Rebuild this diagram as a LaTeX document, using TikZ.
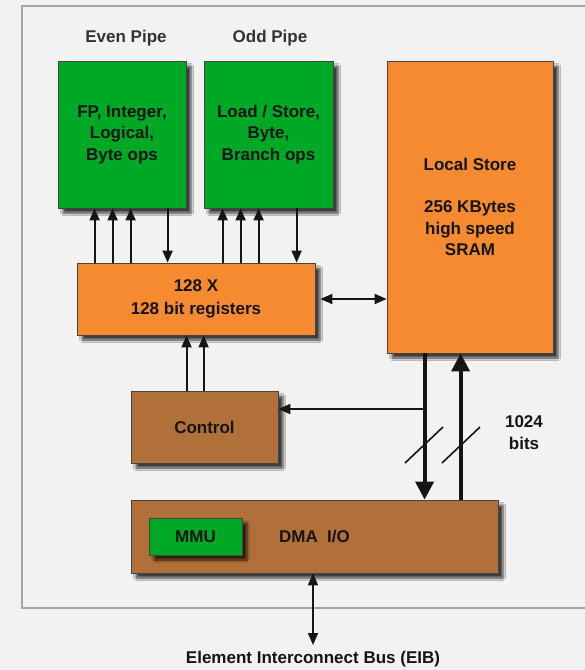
\documentclass[tikz,border=0pt]{standalone}
\usepackage{fontspec}
\setmainfont{Liberation Sans}
\usetikzlibrary{shadows.blur, arrows.meta}
\definecolor{bgc}{HTML}{F2F2F2}
\definecolor{framec}{HTML}{A6A6A6}
\definecolor{greenc}{HTML}{00A925}
\definecolor{orangec}{HTML}{F58A30}
\definecolor{brownc}{HTML}{B1703A}
\definecolor{inkc}{HTML}{151515}
\definecolor{labelc}{HTML}{333333}
\tikzset{
  blk/.style={draw=inkc!80, line width=0.8pt, inner sep=0pt, align=center, text=inkc,
    blur shadow={shadow xshift=5pt, shadow yshift=-5pt, shadow blur radius=2.5pt, shadow opacity=75}},
  greenblk/.style={blk, fill=greenc},
  orangeblk/.style={blk, fill=orangec},
  brownblk/.style={blk, fill=brownc},
  thinarr/.style={draw=inkc, line width=1.8pt, -{Triangle[width=10pt,length=12pt]}},
  thinboth/.style={draw=inkc, line width=1.8pt, {Triangle[width=10pt,length=12pt]}-{Triangle[width=10pt,length=12pt]}},
  thickarr/.style={draw=inkc, line width=3.8pt, -{Triangle[width=18pt,length=18pt]}},
  lbl/.style={text=labelc, inner sep=0pt}
}
\begin{document}
\begin{tikzpicture}[x=1pt, y=-1pt, font=\bfseries\fontsize{17}{21.5}\selectfont]
\useasboundingbox (0,0) rectangle (585,670);
\fill[bgc] (0,0) rectangle (585,670);
\draw[framec, line width=1.6pt] (590,6) -- (22,6) -- (22,608) -- (590,608);

% labels
\node[lbl] (evenlbl) at (126,38) {Even Pipe};
\node[lbl] (oddlbl) at (270,38) {Odd Pipe};

% blocks
\node[greenblk, minimum width=128pt, minimum height=147pt] (even) at (122,134.5) {FP, Integer,\\Logical,\\Byte ops};
\node[greenblk, minimum width=129pt, minimum height=147pt] (odd) at (268.5,134.5) {Load / Store,\\Byte,\\Branch ops};
\node[orangeblk, minimum width=166pt, minimum height=292pt] (ls) at (470,207) {Local Store\\[21pt]256 KBytes\\high speed\\SRAM};
\node[orangeblk, minimum width=238pt, minimum height=72pt, font=\bfseries\fontsize{17}{23}\selectfont] (reg) at (196,299) {128 X\\128 bit registers};
\node[brownblk, minimum width=147pt, minimum height=72pt] (ctrl) at (204.5,427) {Control};
\node[brownblk, minimum width=367pt, minimum height=73pt] (dma) at (314.5,536.5) {DMA~~I/O};
\node[greenblk, minimum width=93pt, minimum height=37pt] (mmu) at (195.5,536.5) {MMU};

% registers <-> pipes
\foreach \s in {18,36,54,146,164,182}{
  \draw[thinarr] ([xshift=\s pt]reg.north west) -- ([xshift=\s pt]reg.north west |- even.south);
}
\foreach \s in {91,220}{
  \draw[thinarr] ([xshift=\s pt]reg.north west |- even.south) -- ([xshift=\s pt]reg.north west);
}

% registers <-> local store
\draw[thinboth] ([xshift=5pt]reg.east) -- (reg.east -| ls.west);

% control -> registers
\foreach \s in {56,73}{
  \draw[thinarr] ([xshift=\s pt]ctrl.north west) -- ([xshift=\s pt]ctrl.north west |- reg.south);
}

% local store <-> DMA (1024 bits)
\coordinate (dn) at ([xshift=38pt]ls.south west);
\coordinate (up) at ([xshift=74pt]ls.south west);
\draw[thickarr] (dn) -- (dn |- dma.north);
\draw[thickarr] (up |- dma.north) -- (up);
\coordinate (tap) at (425,409);
\draw[thinarr] (tap) -- (tap -| ctrl.east);
\draw[draw=inkc, line width=1.6pt] (405,463) -- (443,427);
\draw[draw=inkc, line width=1.6pt] (442,463) -- (480,427);
\node[lbl, align=center, text=inkc, font=\bfseries\fontsize{17}{22}\selectfont] (bits) at (524,433) {1024\\bits};

% DMA <-> EIB
\coordinate (eibend) at (313,645);
\draw[thinboth] (dma.south -| eibend) -- (eibend);
\node[lbl, text=inkc] (eib) at (313,659) {Element Interconnect Bus (EIB)};
\end{tikzpicture}
\end{document}
